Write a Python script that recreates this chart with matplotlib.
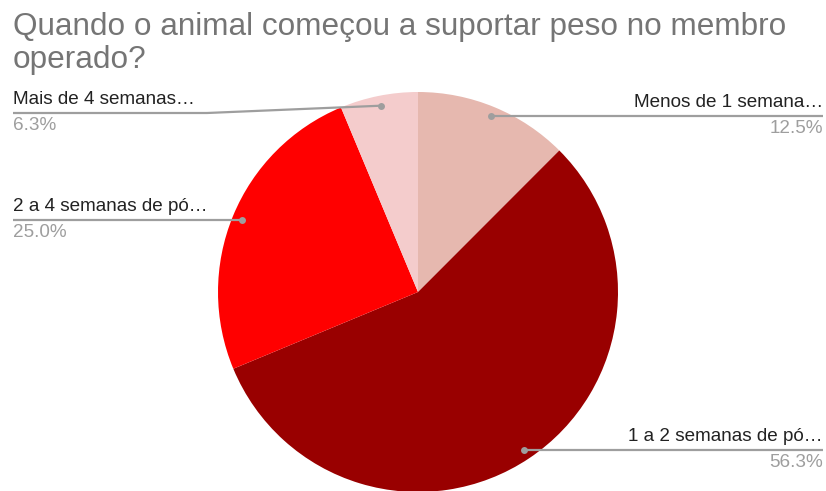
import numpy as np
import matplotlib
matplotlib.use("Agg")
import matplotlib.pyplot as plt

W, H = 826, 491

title = "Quando o animal começou a suportar peso no membro\noperado?"
labels = ["Menos de 1 semana…", "1 a 2 semanas de pó…",
          "2 a 4 semanas de pó…", "Mais de 4 semanas…"]
shares = [12.5, 56.3, 25.0, 6.3]
colors = ["#e6b8af", "#990000", "#ff0000", "#f4cccc"]

# label placement: side, and y of the leader line (None = level with the dot)
sides = ["right", "right", "left", "left"]
line_y = [None, None, None, 113]

plt.rcParams["font.family"] = ["Liberation Sans", "DejaVu Sans"]

fig = plt.figure(figsize=(W / 100, H / 100), dpi=100)
ax = fig.add_axes([0, 0, 1, 1])

cx, cy, r = 418, H - 292, 200
wedges, _ = ax.pie(shares, colors=colors, startangle=90, counterclock=False,
                   center=(cx, cy), radius=r, wedgeprops=dict(linewidth=0))
ax.set_xlim(0, W)
ax.set_ylim(0, H)
ax.set_aspect("equal")
ax.axis("off")

line_col = "#9e9e9e"
for w, lab, val, side, ly in zip(wedges, labels, shares, sides, line_y):
    mid = np.deg2rad((w.theta1 + w.theta2) / 2)
    dx = cx + 0.95 * r * np.cos(mid)
    dy = cy + 0.95 * r * np.sin(mid)
    y = dy if ly is None else H - ly
    if side == "right":
        xs, ys = [dx, W - 3], [dy, dy]
        tx, ha = W - 3, "right"
    else:
        if ly is None:
            xs, ys = [13, dx], [y, y]
        else:
            xs, ys = [13, 207, dx], [y, y, dy]
        tx, ha = 13, "left"
    ax.plot(xs, ys, color=line_col, lw=1.6, solid_capstyle="butt")
    ax.plot(dx, dy, "o", color=line_col, ms=5, mec="none")
    ax.text(tx, y + 5, lab, ha=ha, va="bottom", fontsize=13.6, color="#222222")
    ax.text(tx, y - 4, f"{val:.1f}%", ha=ha, va="top", fontsize=13.6, color="#9e9e9e")

fig.text(13 / W, 1 - 12 / H, title, ha="left", va="top", fontsize=22.7,
         color="#757575", linespacing=1.12)

fig.savefig("out.png", dpi=100, facecolor="white")
